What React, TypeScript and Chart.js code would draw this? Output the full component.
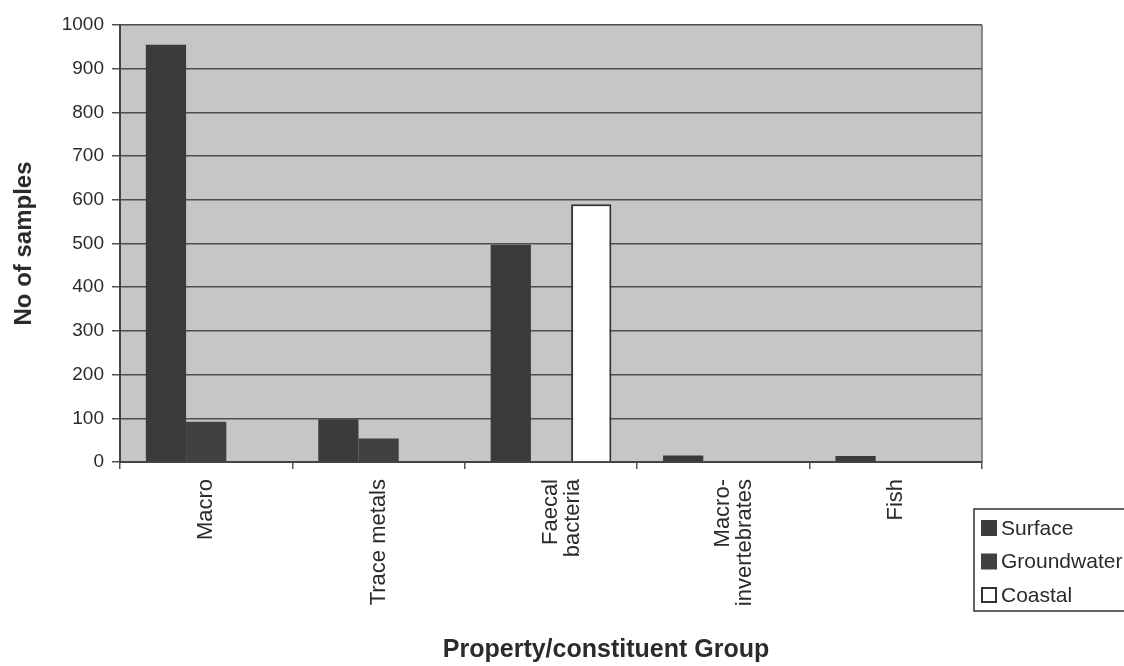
import React, { useEffect, useRef } from "react";
import { Chart, registerables } from "chart.js";

Chart.register(...registerables);

const categories: string[][] = [
  ["Macro"],
  ["Trace metals"],
  ["Faecal", "bacteria"],
  ["Macro-", "invertebrates"],
  ["Fish"],
];
const surface: number[] = [955, 98, 497, 15, 14];
const groundwater: number[] = [92, 54, 0, 0, 0];
const coastal: number[] = [0, 0, 590, 0, 0];
const yTicks: number[] = [0, 100, 200, 300, 400, 500, 600, 700, 800, 900, 1000];
const seriesNames: string[] = ["Surface", "Groundwater", "Coastal"];
const yTitle = "No of samples";
const xTitle = "Property/constituent Group";

const FONT = "'Liberation Sans', Arial, Helvetica, sans-serif";
const TEXT = "#2b2b2b";

const bgPlugin = {
  id: "plotBg",
  beforeDraw(chart: any) {
    const { ctx, chartArea: a } = chart;
    ctx.save();
    ctx.fillStyle = "#ffffff";
    ctx.fillRect(0, 0, chart.width, chart.height);
    ctx.fillStyle = "#c6c6c6";
    ctx.fillRect(a.left, a.top, a.right - a.left, a.bottom - a.top);
    ctx.restore();
  },
  afterDraw(chart: any) {
    const { ctx, chartArea: a } = chart;
    ctx.save();
    // right border
    ctx.strokeStyle = "#6a6a6a";
    ctx.lineWidth = 1.5;
    ctx.beginPath();
    ctx.moveTo(a.right, a.top);
    ctx.lineTo(a.right, a.bottom);
    ctx.stroke();
    // x title
    ctx.fillStyle = TEXT;
    ctx.font = `bold 25px ${FONT}`;
    ctx.textAlign = "center";
    ctx.textBaseline = "middle";
    ctx.fillText(xTitle, 606, 650);
    // legend
    const ds = chart.data.datasets;
    const left = 974, top = 509, bottom = 611;
    ctx.strokeStyle = "#333";
    ctx.lineWidth = 1.5;
    ctx.strokeRect(left, top, 1130 - left, bottom - top);
    ctx.font = `21px ${FONT}`;
    ctx.textAlign = "left";
    ds.forEach((d: any, i: number) => {
      const cy = 528 + i * 33.5;
      ctx.fillStyle = d.backgroundColor;
      ctx.fillRect(981, cy - 8, 16, 16);
      if (d.borderWidth) {
        ctx.strokeStyle = "#333";
        ctx.lineWidth = 2;
        ctx.strokeRect(982, cy - 7, 14, 14);
      }
      ctx.fillStyle = TEXT;
      ctx.fillText(d.label, 1001, cy + 1);
    });
    ctx.restore();
  },
};

export default function App() {
  const ref = useRef<HTMLCanvasElement>(null);
  useEffect(() => {
    if (!ref.current) return;
    const chart = new Chart(ref.current, {
      type: "bar",
      data: {
        labels: categories,
        datasets: [
          { label: seriesNames[0], data: surface, backgroundColor: "#3b3b3b", borderWidth: 0 },
          { label: seriesNames[1], data: groundwater, backgroundColor: "#414141", borderWidth: 0 },
          { label: seriesNames[2], data: coastal, backgroundColor: "#ffffff", borderColor: "#333333", borderWidth: 2 },
        ],
      },
      options: {
        responsive: false,
        animation: false,
        layout: { padding: { top: 25, right: 142, left: 0, bottom: 0 } },
        datasets: { bar: { categoryPercentage: 0.7, barPercentage: 1.0 } },
        plugins: { legend: { display: false }, tooltip: { enabled: false } },
        scales: {
          x: {
            grid: { drawOnChartArea: false, drawTicks: true, tickLength: 7, color: "#555", lineWidth: 1.5, offset: true },
            border: { display: true, color: "#444", width: 2 },
            ticks: {
              minRotation: 90,
              maxRotation: 90,
              autoSkip: false,
              padding: 10,
              color: TEXT,
              font: { family: FONT, size: 22, lineHeight: 1.0 },
            },
            afterFit(scale: any) {
              scale.height = 666 - 462;
            },
          },
          y: {
            min: 0,
            max: 1000,
            afterBuildTicks(scale: any) {
              scale.ticks = yTicks.map((v) => ({ value: v }));
            },
            grid: { color: "#4f4f4f", lineWidth: 1.5, tickLength: 8 },
            border: { display: true, color: "#444", width: 2 },
            ticks: {
              padding: 8,
              color: TEXT,
              font: { family: FONT, size: 19 },
              callback: (v: any) => String(v),
            },
            title: {
              display: true,
              text: yTitle,
              color: TEXT,
              font: { family: FONT, size: 24, weight: "bold" },
              padding: { top: 10, bottom: 0 },
            },
            afterFit(scale: any) {
              scale.width = 120;
            },
          },
        },
      },
      plugins: [bgPlugin],
    });
    return () => chart.destroy();
  }, []);
  return (
    <div style={{ position: "absolute", left: 0, top: 0, width: 1124, height: 666, background: "#fff" }}>
      <canvas ref={ref} width={1124} height={666} />
    </div>
  );
}
